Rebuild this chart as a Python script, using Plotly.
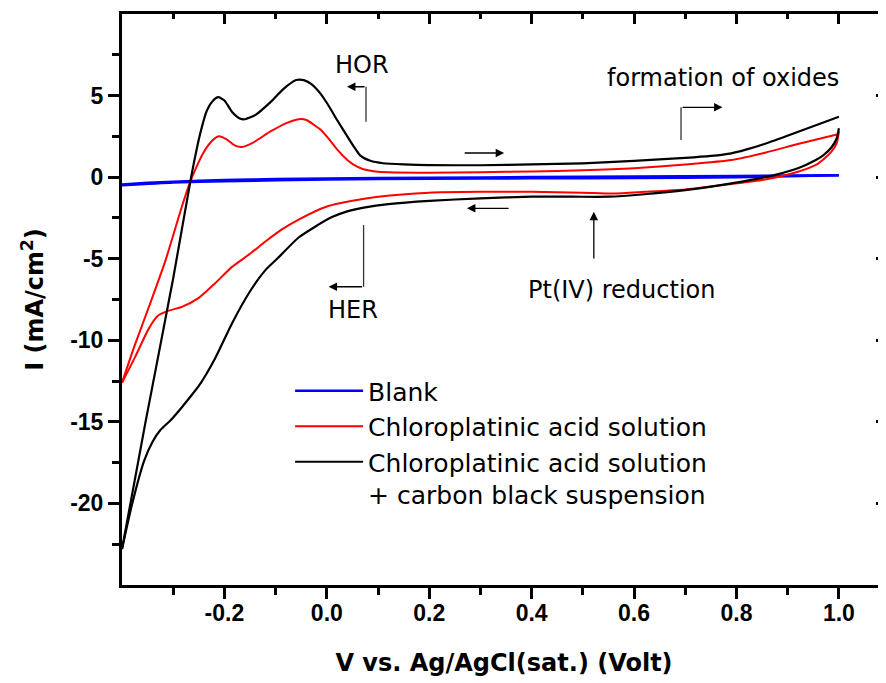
import plotly.graph_objects as go

# ---------------- data ----------------
blank_fwd_x = [-0.40, -0.35, -0.30, -0.20, -0.10, 0.00, 0.20, 0.40, 0.60, 0.80, 1.00]
blank_fwd_y = [-0.45, -0.35, -0.28, -0.18, -0.12, -0.08, -0.04, 0.00, 0.03, 0.07, 0.12]
blank_bwd_x = [1.00, 0.80, 0.60, 0.40, 0.20, 0.00, -0.20, -0.30, -0.40]
blank_bwd_y = [0.12, 0.00, -0.05, -0.07, -0.10, -0.14, -0.25, -0.33, -0.50]

red_fwd_x = [-0.400, -0.375, -0.348, -0.315, -0.283, -0.268, -0.255, -0.241, -0.225, -0.211,
             -0.195, -0.180, -0.166, -0.145, -0.110, -0.080, -0.055, -0.040, -0.012, 0.005,
             0.020, 0.040, 0.053, 0.070, 0.100, 0.200, 0.300, 0.400, 0.500, 0.600,
             0.700, 0.790, 0.856, 0.922, 1.000]
red_fwd_y = [-12.6, -10.3, -8.0, -5.1, -1.8, -0.4, 0.6, 1.5, 2.2, 2.5,
             2.3, 1.95, 1.85, 2.1, 2.8, 3.3, 3.55, 3.5, 2.9, 2.3,
             1.7, 1.05, 0.75, 0.5, 0.33, 0.27, 0.30, 0.35, 0.42, 0.55,
             0.78, 1.05, 1.50, 2.05, 2.65]
red_bwd_x = [1.000, 0.996, 0.985, 0.970, 0.955, 0.920, 0.856, 0.790, 0.700, 0.620,
             0.560, 0.500, 0.400, 0.300, 0.200, 0.100, 0.050, 0.000, -0.055, -0.090,
             -0.120, -0.150, -0.185, -0.218, -0.250, -0.283, -0.310, -0.330, -0.348, -0.374,
             -0.400]
red_bwd_y = [2.8, 2.1, 1.55, 1.1, 0.75, 0.33, -0.14, -0.42, -0.75, -0.9,
             -1.0, -0.95, -0.9, -0.9, -0.95, -1.2, -1.45, -1.8, -2.6, -3.25,
             -3.95, -4.7, -5.5, -6.5, -7.4, -7.95, -8.2, -8.5, -9.3, -11.0,
             -12.6]

blk_fwd_x = [-0.400, -0.354, -0.300, -0.265, -0.247, -0.234, -0.222, -0.212, -0.200, -0.185,
             -0.170, -0.160, -0.140, -0.110, -0.085, -0.060, -0.045, -0.030, -0.012, 0.005,
             0.020, 0.040, 0.053, 0.066, 0.085, 0.110, 0.150, 0.200, 0.300, 0.400,
             0.500, 0.600, 0.700, 0.750, 0.790, 0.820, 0.856, 0.922, 1.000]
blk_fwd_y = [-22.8, -15.0, -6.2, 0.0, 2.7, 4.1, 4.7, 4.9, 4.7, 4.0,
             3.6, 3.55, 3.8, 4.6, 5.4, 5.95, 5.95, 5.7, 5.1, 4.3,
             3.5, 2.5, 1.86, 1.3, 1.0, 0.85, 0.78, 0.74, 0.73, 0.78,
             0.85, 1.0, 1.18, 1.3, 1.46, 1.7, 2.05, 2.8, 3.7]
blk_bwd_x = [1.000, 0.996, 0.985, 0.970, 0.955, 0.920, 0.856, 0.790, 0.700, 0.620,
             0.550, 0.480, 0.400, 0.300, 0.200, 0.120, 0.075, 0.040, 0.010, -0.026,
             -0.055, -0.097, -0.120, -0.152, -0.185, -0.218, -0.250, -0.265, -0.283, -0.305,
             -0.325, -0.340, -0.357, -0.380, -0.400]
blk_bwd_y = [3.0, 2.4, 1.8, 1.35, 1.05, 0.55, 0.0, -0.38, -0.8, -1.05,
             -1.2, -1.2, -1.2, -1.3, -1.45, -1.65, -1.85, -2.1, -2.45, -3.1,
             -3.7, -5.0, -5.7, -7.1, -8.95, -11.1, -12.8, -13.4, -14.1, -14.9,
             -15.5, -16.2, -17.4, -20.0, -22.8]

series_names = ["Blank", "Chloroplatinic acid solution",
                "Chloroplatinic acid solution<br>+ carbon black suspension"]
series_colors = ["#0000ff", "#ff0000", "#000000"]

x_tickvals = [-0.2, 0.0, 0.2, 0.4, 0.6, 0.8, 1.0]
x_ticktext = ["-0.2", "0.0", "0.2", "0.4", "0.6", "0.8", "1.0"]
x_minor = [-0.3, -0.1, 0.1, 0.3, 0.5, 0.7, 0.9]
y_tickvals = [-20, -15, -10, -5, 0, 5]
y_ticktext = ["-20", "-15", "-10", "-5", "0", "5"]
y_minor = [-22.5, -17.5, -12.5, -7.5, -2.5, 2.5, 7.5]

X_RANGE = [-0.4, 1.092]
Y_RANGE = [-25.0, 10.0]

TICKFONT = "Liberation Sans"
TEXTFONT = "DejaVu Sans"

fig = go.Figure()

loops = [(blank_fwd_x, blank_fwd_y, blank_bwd_x, blank_bwd_y, 2.6),
         (red_fwd_x, red_fwd_y, red_bwd_x, red_bwd_y, 2.0),
         (blk_fwd_x, blk_fwd_y, blk_bwd_x, blk_bwd_y, 2.2)]
for (fx, fy, bx, by, w), name, col in zip(loops, series_names, series_colors):
    fig.add_trace(go.Scatter(
        x=fx + [None] + bx, y=fy + [None] + by, mode="lines", name=name,
        line=dict(color=col, width=w, shape="spline", smoothing=0.6),
        connectgaps=False))

# transparent copies of the blank curve carrying the top / right axes (inward ticks)
fig.add_trace(go.Scatter(x=blank_fwd_x, y=blank_fwd_y, xaxis="x2", mode="lines",
                         line=dict(color="rgba(0,0,0,0)", width=0.5),
                         showlegend=False, hoverinfo="skip"))
fig.add_trace(go.Scatter(x=blank_fwd_x, y=blank_fwd_y, yaxis="y2", mode="lines",
                         line=dict(color="rgba(0,0,0,0)", width=0.5),
                         showlegend=False, hoverinfo="skip"))

base = dict(type="linear", showgrid=False, zeroline=False, linecolor="black",
            tickcolor="black", tickwidth=3, automargin=False)

# the page body adds an 8px offset, so the figure is 8px smaller than the window
fig.update_layout(
    width=878, height=675,
    margin=dict(l=114, r=0, t=6, b=98),
    paper_bgcolor="white", plot_bgcolor="white",
    font=dict(family=TEXTFONT, color="black"),
    showlegend=True,
    legend=dict(x=0.22, y=0.38, xanchor="left", yanchor="top",
                bgcolor="rgba(0,0,0,0)", font=dict(family=TEXTFONT, size=25, color="black"),
                itemwidth=68, valign="top", tracegroupgap=0),
    xaxis=dict(range=X_RANGE, tickmode="array", tickvals=x_tickvals, ticktext=x_ticktext,
               ticks="outside", ticklen=11, showline=True, linewidth=3, mirror=True,
               ticklabelstandoff=-6,
               tickfont=dict(family=TICKFONT, size=23, weight="bold"),
               minor=dict(tickmode="array", tickvals=x_minor, ticks="outside", ticklen=7,
                          tickwidth=3, tickcolor="black"),
               title=dict(text="V vs. Ag/AgCl(sat.) (Volt)", standoff=30,
                          font=dict(family=TEXTFONT, size=24, weight="bold")),
               **base),
    yaxis=dict(range=Y_RANGE, tickmode="array", tickvals=y_tickvals, ticktext=y_ticktext,
               ticks="outside", ticklen=11, showline=True, linewidth=3, mirror=False,
               tickfont=dict(family=TICKFONT, size=23, weight="bold"),
               minor=dict(tickmode="array", tickvals=y_minor, ticks="outside", ticklen=7,
                          tickwidth=3, tickcolor="black"),
               title=dict(text="I (mA/cm<sup>2</sup>)", standoff=20,
                          font=dict(family=TEXTFONT, size=24, weight="bold")),
               **base),
    xaxis2=dict(range=X_RANGE, overlaying="x", side="top", anchor="y",
                tickmode="array", tickvals=x_tickvals, ticktext=["" for _ in x_tickvals],
                ticks="inside", ticklen=10, tickcolor="black", tickwidth=3,
                showticklabels=True,
                minor=dict(tickmode="array", tickvals=x_minor, ticks="inside", ticklen=5,
                           tickwidth=3, tickcolor="black")),
    yaxis2=dict(range=Y_RANGE, overlaying="y", side="right", anchor="x",
                tickmode="array", tickvals=y_tickvals, ticktext=["" for _ in y_tickvals],
                ticks="inside", ticklen=10, tickcolor="black", tickwidth=3,
                showticklabels=True,
                minor=dict(tickmode="array", tickvals=y_minor, ticks="inside", ticklen=5,
                           tickwidth=3, tickcolor="black")),
)

# ---------------- annotations ----------------
ann_font = dict(family=TEXTFONT, size=24, color="black")
texts = [("HOR", 0.069, 6.87), ("formation of oxides", 0.774, 6.08),
         ("Pt(IV) reduction", 0.575, -6.92), ("HER", 0.051, -8.15)]
for t, x, y in texts:
    fig.add_annotation(x=x, y=y, xref="x", yref="y", text=t, showarrow=False,
                       font=ann_font, xanchor="center", yanchor="middle")

# bent-arrow stems (plain lines)
stems = [(0.0765, 3.40, 0.0765, 5.54), (0.6917, 2.27, 0.6917, 4.28),
         (0.0718, -2.94, 0.0718, -6.72)]
for x0, y0, x1, y1 in stems:
    fig.add_shape(type="line", x0=x0, y0=y0, x1=x1, y1=y1, xref="x", yref="y",
                  line=dict(color="#333333", width=1.3))

# arrows: (tip_x, tip_y, tail_x, tail_y)
arrows = [(0.0394, 5.54, 0.0765, 5.54), (0.7727, 4.28, 0.6917, 4.28),
          (0.0035, -6.72, 0.0718, -6.72), (0.5214, -2.12, 0.5214, -5.08),
          (0.3463, 1.48, 0.2663, 1.48), (0.2736, -1.91, 0.358, -1.91)]
for tx, ty, sx, sy in arrows:
    fig.add_annotation(x=tx, y=ty, ax=sx, ay=sy, xref="x", yref="y", axref="x", ayref="y",
                       text="", showarrow=True, arrowhead=2, arrowsize=1.3,
                       arrowwidth=1.3, arrowcolor="black", standoff=0, startstandoff=0)

fig.write_html("out.html")
